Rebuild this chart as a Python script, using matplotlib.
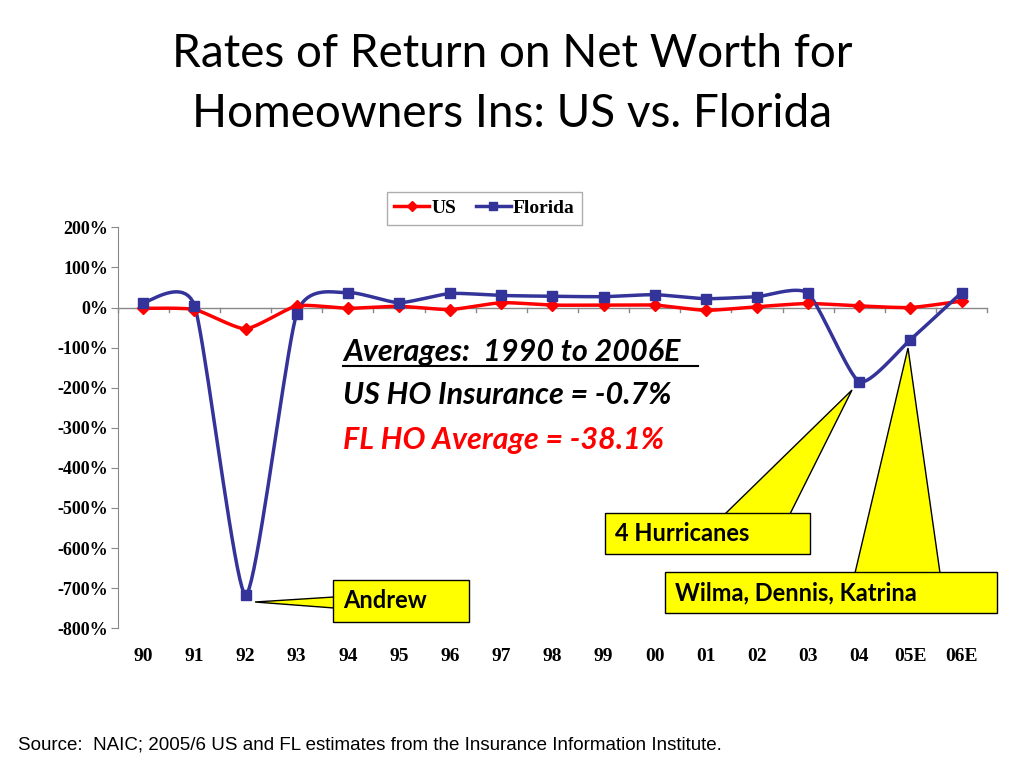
import numpy as np
import matplotlib
matplotlib.use("Agg")
import matplotlib.pyplot as plt
from matplotlib.patches import Polygon, Rectangle
from matplotlib.lines import Line2D

YEARS = ["90", "91", "92", "93", "94", "95", "96", "97", "98", "99",
         "00", "01", "02", "03", "04", "05E", "06E"]
US = [-2, -5, -53, 4, -2, 3, -5, 12, 6, 6, 6, -7, 2, 10, 4, 0, 16]
FLORIDA = [12, 5, -717, -15, 37, 12, 35, 30, 28, 27, 32, 22, 27, 35, -185, -80, 37]
RED, BLUE, YEL = "#ff0000", "#333399", "#ffff00"
SERIF = "Liberation Serif"
SANS = "Lato"


def smooth(y, n=20, k=0.5):
    # cardinal spline through the points (k scales tangents), like Excel's smoothed line
    p = np.array(y, float)
    x = np.arange(len(p), dtype=float)
    px = np.concatenate([[x[0]], x, [x[-1]]])
    py = np.concatenate([[p[0]], p, [p[-1]]])
    xs, ys = [], []
    t = np.linspace(0, 1, n, endpoint=False)
    h00 = 2 * t ** 3 - 3 * t ** 2 + 1
    h10 = t ** 3 - 2 * t ** 2 + t
    h01 = -2 * t ** 3 + 3 * t ** 2
    h11 = t ** 3 - t ** 2
    for i in range(1, len(px) - 2):
        for arr, out in ((px, xs), (py, ys)):
            p0, p1, p2, p3 = arr[i - 1:i + 3]
            m1 = k * (p2 - p0)
            m2 = k * (p3 - p1)
            out.extend(h00 * p1 + h10 * m1 + h01 * p2 + h11 * m2)
    xs.append(x[-1]); ys.append(p[-1])
    return np.array(xs), np.array(ys)


fig = plt.figure(figsize=(10.24, 7.68), dpi=100)
ax = fig.add_axes([0.115, 0.182, 0.849, 0.522])
x = np.arange(len(YEARS))
for vals, c, m in ((US, RED, "D"), (FLORIDA, BLUE, "s")):
    sx, sy = smooth(vals, k=0.3)
    ax.plot(sx, sy, color=c, lw=2.5, zorder=3)
    ax.plot(x, vals, ls="none", marker=m, ms=6 if m == "D" else 7, color=c, zorder=4)

ax.set_xlim(-0.5, 16.5)
ax.set_ylim(-800, 200)
ax.set_yticks(range(-800, 201, 100))
ax.set_yticklabels([f"{v}%" for v in range(-800, 201, 100)], fontfamily=SERIF,
                   fontweight="bold", fontsize=13)
ax.set_xticks([])
for s in ("top", "right", "bottom"):
    ax.spines[s].set_visible(False)
ax.spines["left"].set_color("#888888")
ax.tick_params(axis="y", color="#888888", length=5, pad=2)
ax.axhline(0, color="#888888", lw=1, zorder=1)
for i in range(len(YEARS) + 1):
    ax.plot([i - 0.5, i - 0.5], [0, -12], color="#888888", lw=1, clip_on=False)
for i, lab in enumerate(YEARS):
    ax.text(i, -870, lab, ha="center", va="center", fontfamily=SERIF,
            fontweight="bold", fontsize=14)

handles = [Line2D([], [], color=RED, marker="D", ms=5, lw=2.5),
           Line2D([], [], color=BLUE, marker="s", ms=6, lw=2.5)]
fig.legend(handles, ["US", "Florida"], loc="center", bbox_to_anchor=(0.473, 0.729),
           ncol=2, fancybox=False, edgecolor="#999999", handlelength=1.8,
           handletextpad=0.1, columnspacing=1.0, prop=dict(family=SERIF, weight="bold", size=14))

fig.text(0.5, 0.93, "Rates of Return on Net Worth for", ha="center", va="center",
         fontfamily=SANS, fontsize=33)
fig.text(0.5, 0.852, "Homeowners Ins: US vs. Florida", ha="center", va="center",
         fontfamily=SANS, fontsize=33)

tx = 343 / 1024
fig.text(tx, 1 - 352 / 768, "Averages:  1990 to 2006E", fontfamily=SANS, style="italic",
         fontweight="bold", fontsize=22, va="center")
fig.add_artist(Line2D([tx, 698 / 1024], [1 - 366 / 768] * 2, color="black", lw=1.5))
fig.text(tx, 1 - 395 / 768, "US HO Insurance = -0.7%", fontfamily=SANS, style="italic",
         fontweight="bold", fontsize=22, va="center")
fig.text(tx, 1 - 440 / 768, "FL HO Average = -38.1%", fontfamily=SANS, style="italic",
         fontweight="bold", fontsize=22, va="center", color=RED)


def callout(box, tip, base, label):
    x0, y0, x1, y1 = box
    P = lambda px, py: (px / 1024, 1 - py / 768)
    fig.add_artist(Polygon([P(*base[0]), P(*tip), P(*base[1])], closed=True, fc=YEL,
                           ec="black", lw=1, transform=fig.transFigure, zorder=5))
    fig.add_artist(Rectangle(P(x0, y1), (x1 - x0) / 1024, (y1 - y0) / 768, fc=YEL,
                             ec="black", lw=1, transform=fig.transFigure, zorder=6))
    fig.text((x0 + 10) / 1024, 1 - (y0 + y1) / 2 / 768, label, fontfamily=SANS,
             fontweight="bold", fontsize=17, va="center", zorder=7)


callout((333, 580, 469, 622), (255, 602), ((334, 597), (334, 608)), "Andrew")
callout((605, 513, 810, 554), (852, 390), ((725, 514), (790, 514)), "4 Hurricanes")
callout((665, 572, 997, 613), (908, 348), ((855, 573), (940, 573)), "Wilma, Dennis, Katrina")

fig.text(18 / 1024, 1 - 745 / 768, "Source:  NAIC; 2005/6 US and FL estimates from the Insurance Information Institute.",
         fontfamily="Liberation Sans", fontsize=13.5, va="center")

fig.savefig("out.png", dpi=100)
